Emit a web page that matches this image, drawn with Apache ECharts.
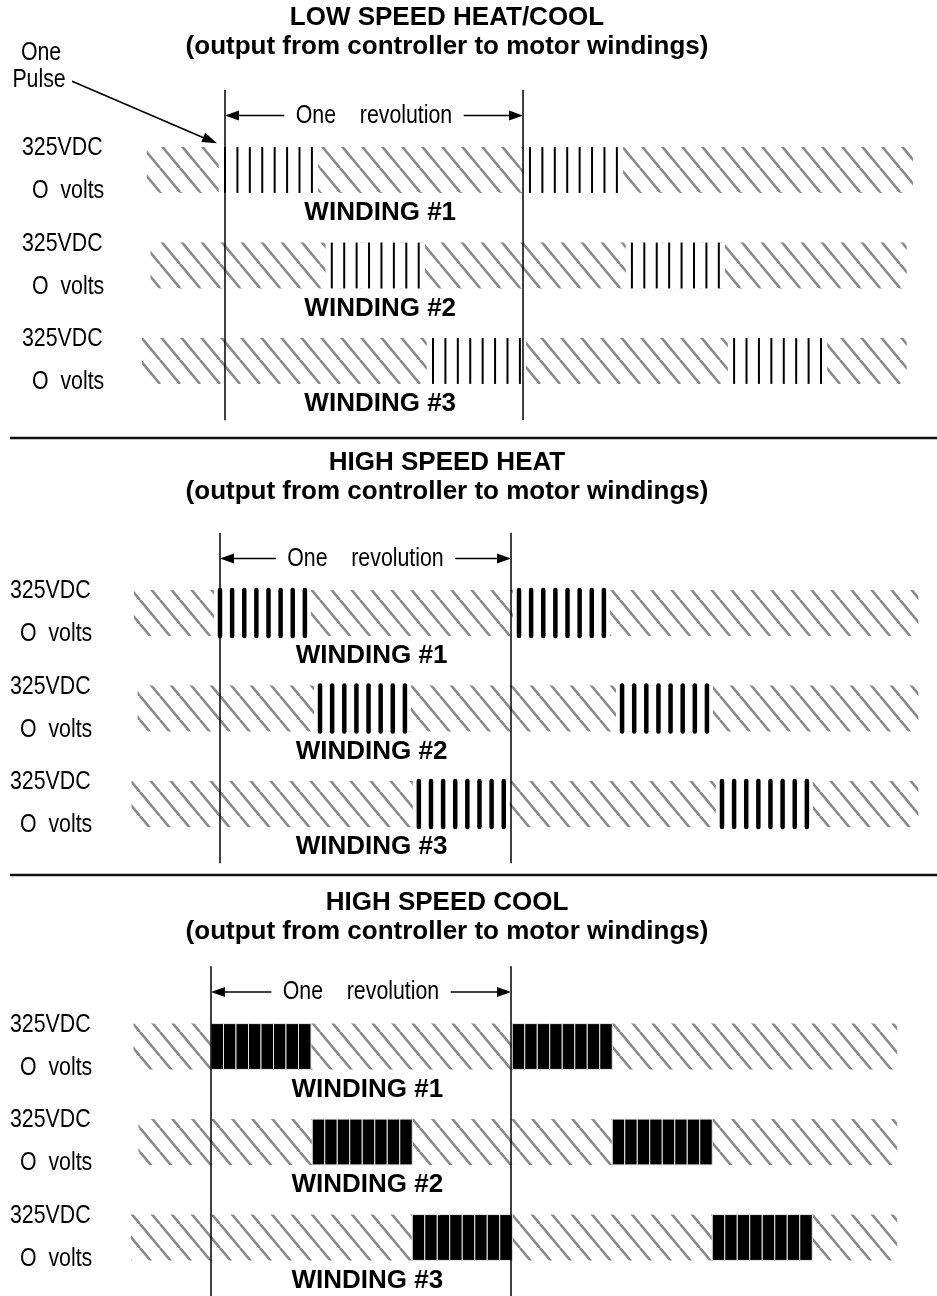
<!DOCTYPE html>
<html>
<head>
<meta charset="utf-8">
<script src="https://cdn.jsdelivr.net/npm/echarts@6/dist/echarts.min.js"></script>
<style>
  html, body { margin: 0; padding: 0; background: #fff; }
  #main { width: 937px; height: 1296px; }
</style>
</head>
<body>
<div id="main"></div>
<script>
// ---- data ----
const panelTitles = ['LOW SPEED HEAT/COOL', 'HIGH SPEED HEAT', 'HIGH SPEED COOL']
const panelSubtitle = '(output from controller to motor windings)'
const windingNames = ['WINDING #1', 'WINDING #2', 'WINDING #3']
const levelHigh = '325VDC'
const levelLow = 'O  volts'
const revolutionText = 'One    revolution'
const pulseNote = ['One', 'Pulse']

// one revolution = 24 pulse slots, 8 pulses per burst
const revolution = [0, 24]
const pulsesPerGroup = 8

// hatched span of each winding row (pulse slots)
const lowHatch = [[-6.3, 55.4], [-6.0, 54.9], [-6.7, 54.9]]
const heatHatch = [[-7.1, 57.6], [-6.8, 57.6], [-7.3, 57.6]]
const coolHatch = [[-6.2, 54.9], [-5.8, 54.9], [-6.4, 54.9]]

// first slot of each burst, two bursts per winding
const lowBursts = [[-0.5, 24.06], [8.1, 32.27], [16.25, 40.5]]
const heatBursts = [[-0.5, 24.16], [7.75, 32.66], [15.9, 40.9]]
const coolBursts = [[0, 24.1], [8.1, 32.1], [16.1, 40.1]]

// where the "one pulse" arrow points (slot, lane)
const pulseNotePoint = [-0.64, -0.28]

// ---- layout ----
const panels = [
  { hatch: lowHatch, bursts: lowBursts, pulse: 'thin', origin: 225, slot: 12.417, laneY: 170, titleTop: 5, labelX: 22 },
  { hatch: heatHatch, bursts: heatBursts, pulse: 'thick', origin: 220, slot: 12.125, laneY: 613, titleTop: 450, labelX: 10 },
  { hatch: coolHatch, bursts: coolBursts, pulse: 'block', origin: 211, slot: 12.5, laneY: 1046.5, titleTop: 890, labelX: 10 }
]
const LANE = 95.5
const X_MIN = -16
const X_MAX = 57
const Y_MIN = -1
const Y_MAX = 2.5
const BAND = 0.24
const REV_TOP = -0.84
const REV_BOTTOM = 2.62
const ARROW_Y = -0.57
const FONT = '"Liberation Sans", Arial, sans-serif'

function hatchFill() {
  const c = document.createElement('canvas')
  c.width = 20
  c.height = 24
  const ctx = c.getContext('2d')
  ctx.strokeStyle = '#8a8a8a'
  ctx.lineWidth = 2.6
  ;[-20, 0, 20].forEach(dx => {
    ctx.beginPath()
    ctx.moveTo(dx, 0)
    ctx.lineTo(dx + 20, 24)
    ctx.stroke()
  })
  return { image: c, repeat: 'repeat' }
}
const HATCH = hatchFill()

function narrowText(str, x, y, align) {
  return {
    type: 'text', x: x, y: y, scaleX: 0.82,
    style: { text: str, fill: '#000', font: '26px ' + FONT, align: align, verticalAlign: 'middle' }
  }
}
function boldText(str, x, y) {
  return {
    type: 'text', x: x, y: y,
    style: { text: str, fill: '#000', font: 'bold 26px ' + FONT, align: 'center', verticalAlign: 'middle' }
  }
}
function rectBetween(a, b, style) {
  return { type: 'rect', shape: { x: a[0], y: a[1], width: b[0] - a[0], height: b[1] - a[1] }, style: style }
}

function windingRenderer(p) {
  return function (params, api) {
    const lane = api.value(0)
    const top = lane - BAND
    const bottom = lane + BAND
    const h0 = api.coord([api.value(1), top])
    const h1 = api.coord([api.value(2), bottom])
    const children = [rectBetween(h0, h1, { fill: HATCH })]
    ;[api.value(3), api.value(4)].forEach(start => {
      children.push(rectBetween(api.coord([start, top]), api.coord([start + pulsesPerGroup, bottom]), { fill: '#fff' }))
      for (let k = 0; k < pulsesPerGroup; k++) {
        if (p.pulse === 'block') {
          children.push(rectBetween(api.coord([start + k, top]), api.coord([start + k + 1, bottom]),
            { fill: '#000', stroke: '#e6e6e6', lineWidth: 1 }))
        } else {
          const a = api.coord([start + k + 0.5, top])
          const b = api.coord([start + k + 0.5, bottom])
          children.push({
            type: 'line',
            shape: { x1: a[0], y1: a[1], x2: b[0], y2: b[1] },
            style: { stroke: '#000', lineWidth: p.pulse === 'thick' ? 4.5 : 2, lineCap: p.pulse === 'thick' ? 'round' : 'butt' }
          })
        }
      }
    })
    const lbl = api.coord([12.5, bottom])
    children.push(boldText(windingNames[params.dataIndex], lbl[0], lbl[1] + 20))
    children.push(narrowText(levelHigh, p.labelX, h0[1] + 1, 'left'))
    children.push(narrowText(levelLow, p.labelX + 10, h1[1] - 2, 'left'))
    return { type: 'group', children: children }
  }
}

function arrowHead(tip, dirX, dirY, len, half) {
  const n = Math.sqrt(dirX * dirX + dirY * dirY)
  const ux = dirX / n
  const uy = dirY / n
  const bx = tip[0] - ux * len
  const by = tip[1] - uy * len
  return {
    type: 'polygon',
    shape: { points: [tip, [bx - uy * half, by + ux * half], [bx + uy * half, by - ux * half]] },
    style: { fill: '#000' }
  }
}

function renderRevolution(params, api) {
  const x0 = api.value(0)
  const x1 = api.value(1)
  const children = []
  ;[x0, x1].forEach(x => {
    const a = api.coord([x, REV_TOP])
    const b = api.coord([x, REV_BOTTOM])
    children.push({ type: 'line', shape: { x1: a[0], y1: a[1], x2: b[0], y2: b[1] }, style: { stroke: '#000', lineWidth: 1.5 } })
  })
  const l = api.coord([x0, ARROW_Y])
  const r = api.coord([x1, ARROW_Y])
  children.push({ type: 'line', shape: { x1: l[0] + 10, y1: l[1], x2: r[0] - 10, y2: r[1] }, style: { stroke: '#000', lineWidth: 1.5 } })
  children.push(arrowHead(l, -1, 0, 14, 5))
  children.push(arrowHead(r, 1, 0, 14, 5))
  const m = api.coord([(x0 + x1) / 2, ARROW_Y])
  children.push({
    type: 'text', x: m[0], y: m[1], scaleX: 0.82,
    style: { text: revolutionText, fill: '#000', font: '26px ' + FONT, align: 'center', verticalAlign: 'middle', backgroundColor: '#fff', padding: [0, 14] }
  })
  return { type: 'group', children: children }
}

function renderPulseNote(params, api) {
  const tip = api.coord([api.value(0), api.value(1)])
  const tail = [tip[0] - 145, tip[1] - 62]
  return {
    type: 'group',
    children: [
      { type: 'line', shape: { x1: tail[0], y1: tail[1], x2: tip[0] - 10, y2: tip[1] - 4 }, style: { stroke: '#000', lineWidth: 1.5 } },
      arrowHead(tip, 145, 62, 15, 5),
      narrowText(pulseNote[0], tip[0] - 176, tip[1] - 90, 'center'),
      narrowText(pulseNote[1], tip[0] - 178, tip[1] - 63, 'center')
    ]
  }
}

const grids = []
const xAxes = []
const yAxes = []
const titles = []
const series = []
panels.forEach((p, i) => {
  grids.push({
    left: p.origin + X_MIN * p.slot, width: (X_MAX - X_MIN) * p.slot,
    top: p.laneY + Y_MIN * LANE, height: (Y_MAX - Y_MIN) * LANE
  })
  xAxes.push({ type: 'value', gridIndex: i, min: X_MIN, max: X_MAX, show: false })
  yAxes.push({ type: 'value', gridIndex: i, min: Y_MIN, max: Y_MAX, inverse: true, show: false })
  titles.push({
    text: panelTitles[i], subtext: panelSubtitle,
    left: 447, top: p.titleTop, textAlign: 'center', padding: 0, itemGap: 3,
    textStyle: { fontFamily: FONT, fontWeight: 'bold', fontSize: 26, lineHeight: 26, color: '#000' },
    subtextStyle: { fontFamily: FONT, fontWeight: 'bold', fontSize: 26, lineHeight: 26, color: '#000' }
  })
  series.push({
    type: 'custom', name: panelTitles[i], xAxisIndex: i, yAxisIndex: i, z: 2,
    renderItem: windingRenderer(p),
    data: windingNames.map((w, k) => [k, p.hatch[k][0], p.hatch[k][1], p.bursts[k][0], p.bursts[k][1]])
  })
  series.push({
    type: 'custom', xAxisIndex: i, yAxisIndex: i, z: 3,
    renderItem: renderRevolution,
    data: [revolution]
  })
})
series.push({
  type: 'custom', xAxisIndex: 0, yAxisIndex: 0, z: 4,
  renderItem: renderPulseNote,
  data: [pulseNotePoint]
})

const chart = echarts.init(document.getElementById('main'))
chart.setOption({
  animation: false,
  backgroundColor: '#fff',
  title: titles,
  grid: grids,
  xAxis: xAxes,
  yAxis: yAxes,
  series: series,
  graphic: [438, 875].map(y => ({
    type: 'line', shape: { x1: 10, y1: y, x2: 937, y2: y }, style: { stroke: '#111', lineWidth: 2.5 }
  }))
})
</script>
</body>
</html>
